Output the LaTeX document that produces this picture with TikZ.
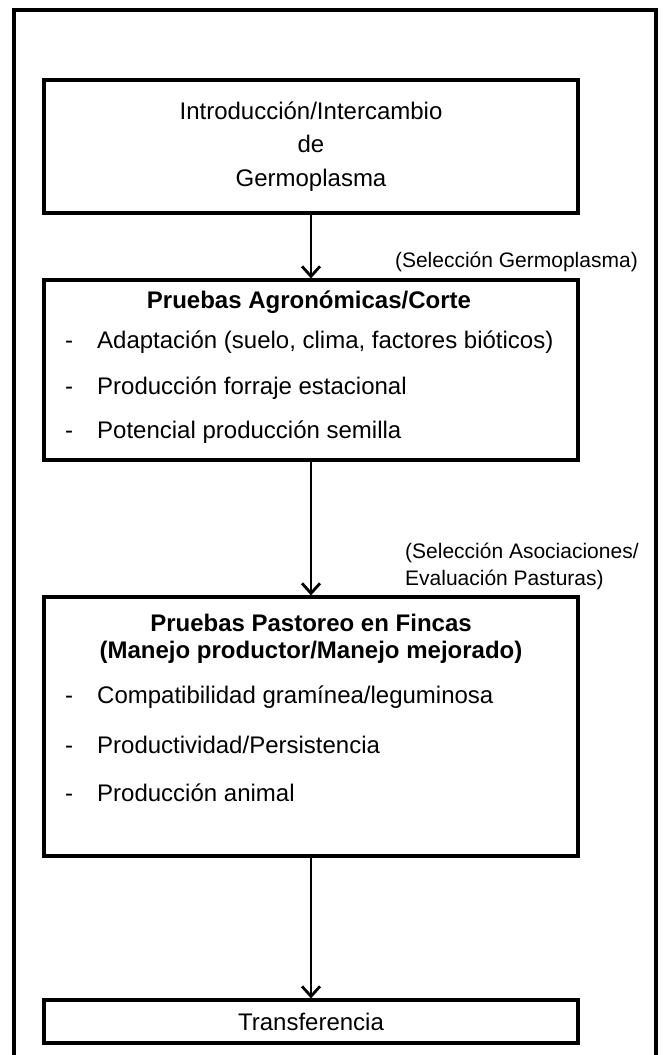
\documentclass[tikz,border=0pt]{standalone}
\usepackage{fontspec}
\setmainfont{Liberation Sans}
\usetikzlibrary{arrows.meta}
\begin{document}
\begin{tikzpicture}[x=1pt,y=-1pt,
  box/.style = {draw, line width=3.2pt, minimum width=534pt, inner sep=0pt},
  title/.style = {font=\fontsize{24}{27}\selectfont\bfseries, align=center},
  item/.style = {anchor=west, inner sep=0pt, font=\fontsize{24}{27}\selectfont},
  note/.style = {inner sep=0pt, font=\fontsize{21}{27}\selectfont, align=left},
  arr/.style = {line width=2.6pt, -{Straight Barb[length=10pt,width=18pt,line width=2.8pt]}},
  ]
  \useasboundingbox (0,0) rectangle (670,1055);
  \draw[line width=3.2pt] (14,1055) -- (14,10) -- (656,10) -- (656,1055); % frame

  % boxes
  \node[box, minimum height=133pt, align=center, font=\fontsize{24}{33.5}\selectfont] (intro) at (311,146.5) {Introducción/Intercambio\\de\\Germoplasma};
  \node[box, minimum height=180pt] (agro) at (311,370) {};
  \node[box, minimum height=259pt] (pasto) at (311,726.5) {};
  \node[box, minimum height=43pt, font=\fontsize{24}{27}\selectfont] (transf) at (311,1021.5) {Transferencia};

  % box contents
  \node[title] (agrotitle) at (309,302) {Pruebas Agronómicas/Corte};
  \node[item] (adapt) at (65,342) {\makebox[32pt][l]{-}Adaptación (suelo, clima, factores bióticos)};
  \node[item] (forraje) at (65,388) {\makebox[32pt][l]{-}Producción forraje estacional};
  \node[item] (semilla) at (65,432) {\makebox[32pt][l]{-}Potencial producción semilla};

  \node[title] (pastotitle) at (311,638.5) {Pruebas Pastoreo en Fincas\\(Manejo productor/Manejo mejorado)};
  \node[item] (compat) at (65,697) {\makebox[32pt][l]{-}Compatibilidad gramínea/leguminosa};
  \node[item] (persist) at (65,745) {\makebox[32pt][l]{-}Productividad/Persistencia};
  \node[item] (animal) at (65,793) {\makebox[32pt][l]{-}Producción animal};

  % connectors
  \draw[arr] (intro) -- (agro);
  \draw[arr] (agro) -- (pasto);
  \draw[arr] (pasto) -- (transf);

  \node[note, anchor=east] (selgerm) at (638,262) {(Selección Germoplasma)};
  \node[note, anchor=west] (selasoc) at (405,566) {(Selección Asociaciones/\\Evaluación Pasturas)};
\end{tikzpicture}
\end{document}
